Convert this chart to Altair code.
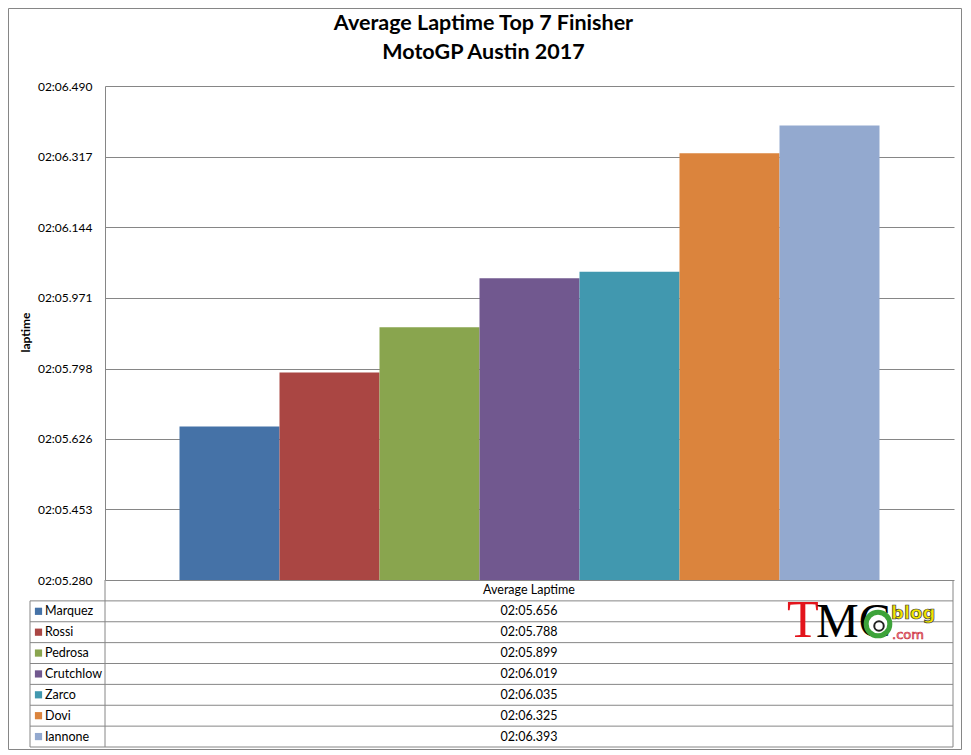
import json
import altair as alt
import pandas as pd

# ---------------- data ----------------
drivers = ["Marquez", "Rossi", "Pedrosa", "Crutchlow", "Zarco", "Dovi", "Iannone"]
laptime_s = [125.656, 125.788, 125.899, 126.019, 126.035, 126.325, 126.393]
laptime_text = ["02:05.656", "02:05.788", "02:05.899", "02:06.019",
                "02:06.035", "02:06.325", "02:06.393"]
bar_colors = ["#4572A7", "#AA4643", "#89A54E", "#71588F", "#4198AF", "#DB843D", "#93A9CF"]
tick_values = [125.280, 125.453, 125.626, 125.798, 125.971, 126.144, 126.317, 126.490]
tick_labels = ["02:05.280", "02:05.453", "02:05.626", "02:05.798",
               "02:05.971", "02:06.144", "02:06.317", "02:06.490"]
category_label = "Average Laptime"
title_lines = ["Average Laptime Top 7 Finisher", "MotoGP Austin 2017"]
y_title = "laptime"

FONT = "Lato"
GRID = "#868686"
W, H = 849, 494

bars_df = pd.DataFrame({"driver": drivers, "laptime": laptime_s})
table_df = pd.DataFrame({
    "row": list(range(len(drivers) + 1)),
    "driver": [""] + drivers,
    "value": [category_label] + laptime_text,
})
table_df["mid"] = table_df["row"] + 0.5
n_rows = len(table_df)

color_scale = alt.Scale(domain=drivers, range=bar_colors)
y_scale = alt.Scale(domain=[tick_values[0], tick_values[-1]], zero=False, nice=False)
table_scale = alt.Scale(domain=[0, n_rows], range=[H, H + 167], nice=False, zero=False)

label_expr = f"{json.dumps(tick_labels)}[indexof({json.dumps(tick_values)}, datum.value)]"

bars = alt.Chart(bars_df).mark_bar().encode(
    x=alt.X("driver:N", sort=drivers, axis=None,
            scale=alt.Scale(paddingInner=0, paddingOuter=0.745)),
    y=alt.Y("laptime:Q", scale=y_scale,
            axis=alt.Axis(values=tick_values, labelExpr=label_expr, title=None,
                          grid=True, gridColor=GRID, gridWidth=1, gridOpacity=1,
                          domain=True, domainColor=GRID, domainWidth=1,
                          ticks=False, labelFont=FONT, labelFontSize=12,
                          labelColor="#000000", labelPadding=13)),
    y2=alt.datum(tick_values[0]),
    color=alt.Color("driver:N", scale=color_scale, legend=None),
)

# ---------------- data table below the plot ----------------
tbase = alt.Chart(table_df)
values_txt = tbase.mark_text(font=FONT, fontSize=12.5, color="#000000", align="center",
                             baseline="middle").encode(
    x=alt.value(424),
    y=alt.Y("mid:Q", scale=table_scale, axis=None),
    text="value:N",
)
names_txt = tbase.transform_filter("datum.row > 0").mark_text(
    font=FONT, fontSize=12.5, color="#000000", align="left", baseline="middle").encode(
    x=alt.value(-60),
    y=alt.Y("mid:Q", scale=table_scale, axis=None),
    text="driver:N",
)
keys = tbase.transform_filter("datum.row > 0").mark_square(size=52, opacity=1).encode(
    x=alt.value(-66.5),
    y=alt.Y("mid:Q", scale=table_scale, axis=None),
    color=alt.Color("driver:N", scale=color_scale, legend=None),
)
hlines = tbase.transform_filter("datum.row > 0").transform_calculate(
    edge="datum.row").mark_rule(color=GRID, strokeWidth=1).encode(
    x=alt.value(-75), x2=alt.value(848),
    y=alt.Y("edge:Q", scale=table_scale, axis=None),
)
bottom_line = alt.Chart(pd.DataFrame({"edge": [n_rows]})).mark_rule(
    color=GRID, strokeWidth=1).encode(
    x=alt.value(-75), x2=alt.value(848),
    y=alt.Y("edge:Q", scale=table_scale, axis=None),
)
vdf = pd.DataFrame({"y0": [1, 0, 0], "y1": [n_rows, n_rows, n_rows], "col": ["left", "mid", "right"]})
vl_left = alt.Chart(vdf).transform_filter("datum.col == 'left'").mark_rule(
    color=GRID, strokeWidth=1).encode(
    x=alt.value(-75), y=alt.Y("y0:Q", scale=table_scale, axis=None), y2="y1:Q")
vl_mid = alt.Chart(vdf).transform_filter("datum.col == 'mid'").mark_rule(
    color=GRID, strokeWidth=1).encode(
    x=alt.value(0), y=alt.Y("y0:Q", scale=table_scale, axis=None), y2="y1:Q")
vl_right = alt.Chart(vdf).transform_filter("datum.col == 'right'").mark_rule(
    color=GRID, strokeWidth=1).encode(
    x=alt.value(848), y=alt.Y("y0:Q", scale=table_scale, axis=None), y2="y1:Q")

table = alt.layer(hlines, bottom_line, vl_left, vl_mid, vl_right, keys, names_txt, values_txt)

# ---------------- decorations ----------------
one = pd.DataFrame({"k": [0]})
title1 = alt.Chart(one).mark_text(text=title_lines[0], font=FONT, fontSize=21.5,
                                  fontWeight="bold", color="#000000", align="center",
                                  baseline="alphabetic").encode(
    x=alt.value(378.5), y=alt.value(-56))
title2 = alt.Chart(one).mark_text(text=title_lines[1], font=FONT, fontSize=21.5,
                                  fontWeight="bold", color="#000000", align="center",
                                  baseline="alphabetic").encode(
    x=alt.value(378.5), y=alt.value(-27.5))
ytitle = alt.Chart(one).mark_text(text=y_title, font=FONT, fontSize=12, fontWeight="bold",
                                  color="#000000", angle=270, align="center",
                                  baseline="middle").encode(
    x=alt.value(-79), y=alt.value(246.5))
border = alt.Chart(one).mark_rect(fillOpacity=0, stroke=GRID, strokeWidth=1).encode(
    x=alt.value(-96.5), x2=alt.value(856.5), y=alt.value(-77.5), y2=alt.value(663.5))

# logo (TMC blog .com)
logo_T = alt.Chart(one).mark_text(text="T", font="Liberation Serif", fontSize=52,
                                  color="#E3141C", align="left", baseline="alphabetic").encode(
    x=alt.value(682), y=alt.value(551))
logo_MC = alt.Chart(one).mark_text(text="MC", font="Liberation Serif", fontSize=48,
                                   color="#000000", align="left", baseline="alphabetic").encode(
    x=alt.value(711), y=alt.value(551))
logo_disc = alt.Chart(one).mark_circle(size=560, color="#FFFFFF", opacity=1).encode(
    x=alt.value(773), y=alt.value(538))
logo_ring = alt.Chart(one).mark_point(shape="circle", filled=False, size=560,
                                      strokeWidth=5, color="#3DA33A", opacity=1).encode(
    x=alt.value(773), y=alt.value(538))
logo_rider = alt.Chart(one).mark_point(shape="circle", filled=False, size=90,
                                       strokeWidth=2, color="#222222", opacity=1).encode(
    x=alt.value(774), y=alt.value(540))
logo_blog = alt.Chart(one).mark_text(text="blog", font="DejaVu Sans", fontSize=18,
                                     fontWeight="bold", color="#F2E600", stroke="#333333",
                                     strokeWidth=0.7, align="left",
                                     baseline="alphabetic").encode(
    x=alt.value(786), y=alt.value(533))
logo_com = alt.Chart(one).mark_text(text=".com", font="DejaVu Sans", fontSize=13,
                                    color="#F4A6AE", stroke="#C8202C", strokeWidth=0.6,
                                    align="left", baseline="alphabetic").encode(
    x=alt.value(787), y=alt.value(553))

chart = alt.layer(
    border, bars, table, title1, title2, ytitle,
    logo_T, logo_MC, logo_disc, logo_ring, logo_rider, logo_blog, logo_com,
).resolve_scale(y="independent").properties(
    width=W, height=H, padding=0, background="#FFFFFF"
).configure_view(strokeWidth=0)

chart.save("out.html", embed_options={"renderer": "svg", "actions": False})
